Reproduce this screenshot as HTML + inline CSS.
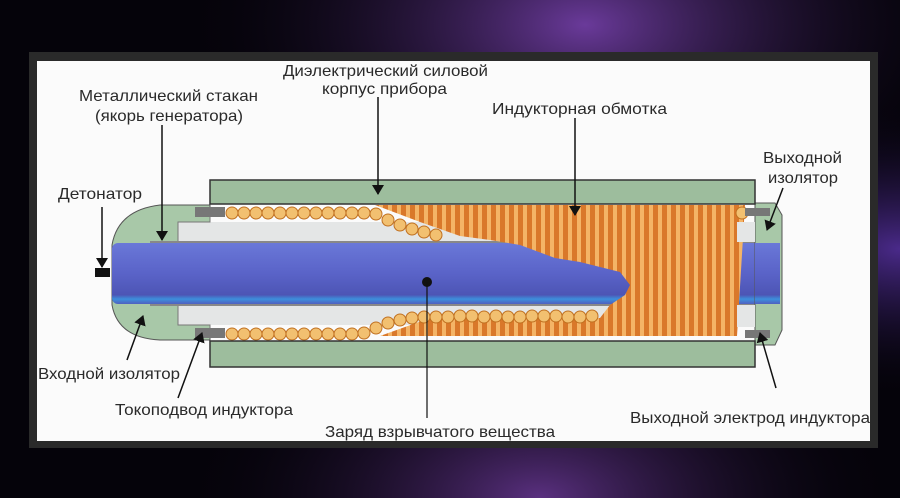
<!DOCTYPE html>
<html><head><meta charset="utf-8">
<style>
html,body{margin:0;padding:0;width:900px;height:498px;overflow:hidden;background:#05030a}
svg{display:block}
text{font-family:"Liberation Sans",Arial,sans-serif;font-size:16px;fill:#2a2a2a}
</style></head><body>
<svg width="900" height="498" viewBox="0 0 900 498">
<defs>
<radialGradient id="bg1" cx="0.65" cy="0.05" r="0.45"><stop offset="0" stop-color="#6a3a9a"/><stop offset="1" stop-color="#05030a" stop-opacity="0"/></radialGradient>
<radialGradient id="bg2" cx="0.6" cy="1" r="0.4"><stop offset="0" stop-color="#5a3080"/><stop offset="1" stop-color="#05030a" stop-opacity="0"/></radialGradient>
<radialGradient id="bg3" cx="1" cy="0.5" r="0.3"><stop offset="0" stop-color="#4a2a8a"/><stop offset="1" stop-color="#05030a" stop-opacity="0"/></radialGradient>
<linearGradient id="blue" x1="0" y1="0" x2="0" y2="1"><stop offset="0" stop-color="#6a78d8"/><stop offset="0.5" stop-color="#5a63c8"/><stop offset="0.85" stop-color="#4d55b5"/><stop offset="0.92" stop-color="#3d8fdc"/><stop offset="1" stop-color="#5060c0"/></linearGradient>
<pattern id="stripes" width="9" height="10" patternUnits="userSpaceOnUse"><rect width="9" height="10" fill="#d9782a"/><rect x="1" width="4" height="10" fill="#f4b466"/></pattern>
<marker id="ah" markerWidth="10" markerHeight="12" refX="9" refY="6" orient="auto" markerUnits="userSpaceOnUse"><path d="M0,0 L10,6 L0,12 z" fill="#111"/></marker>
</defs>
<rect width="900" height="498" fill="#05030a"/>
<rect width="900" height="498" fill="url(#bg1)"/>
<rect width="900" height="498" fill="url(#bg2)"/>
<rect width="900" height="498" fill="url(#bg3)"/>
<rect x="29" y="52" width="849" height="396" fill="#2a2a2a"/>
<rect x="37" y="61" width="833" height="380" fill="#fbfbfb"/>

<path d="M210,205 L160,205 Q118,210 112,245 L112,305 Q118,338 160,340 L210,340 Z" fill="#a8c8a8" stroke="#555" stroke-width="1"/>
<rect x="178" y="222" width="560" height="20" fill="#e4e6e6"/>
<rect x="178" y="305" width="560" height="20" fill="#e4e6e6"/>
<path d="M178,242 V222 H210 V215" fill="none" stroke="#777" stroke-width="1"/>
<path d="M178,305 V325 H210 V332" fill="none" stroke="#777" stroke-width="1"/>
<rect x="195" y="207" width="30" height="10" fill="#777"/>
<rect x="195" y="328" width="30" height="10" fill="#777"/>
<rect x="112" y="243" width="666" height="61" rx="6" fill="url(#blue)"/>
<line x1="150" y1="242" x2="778" y2="242" stroke="#888" stroke-width="2"/>
<line x1="150" y1="305" x2="778" y2="305" stroke="#888" stroke-width="2"/>
<path d="M375,205 L745,205 L737,336 L380,336 L430,318 L600,318 L610,305 L625,295 L630,285 L620,272 L580,262 L555,258 L520,245 L490,240 L460,236 L420,222 Z" fill="url(#stripes)"/>
<g fill="#f2c070" stroke="#c07020" stroke-width="1">
<circle cx="232" cy="213" r="6"/><circle cx="244" cy="213" r="6"/><circle cx="256" cy="213" r="6"/><circle cx="268" cy="213" r="6"/><circle cx="280" cy="213" r="6"/><circle cx="292" cy="213" r="6"/><circle cx="304" cy="213" r="6"/><circle cx="316" cy="213" r="6"/><circle cx="328" cy="213" r="6"/><circle cx="340" cy="213" r="6"/><circle cx="352" cy="213" r="6"/><circle cx="364" cy="213" r="6"/><circle cx="376" cy="214" r="6"/><circle cx="388" cy="220" r="6"/><circle cx="400" cy="225" r="6"/><circle cx="412" cy="229" r="6"/><circle cx="424" cy="232" r="6"/><circle cx="436" cy="235" r="6"/>
<circle cx="232" cy="334" r="6"/><circle cx="244" cy="334" r="6"/><circle cx="256" cy="334" r="6"/><circle cx="268" cy="334" r="6"/><circle cx="280" cy="334" r="6"/><circle cx="292" cy="334" r="6"/><circle cx="304" cy="334" r="6"/><circle cx="316" cy="334" r="6"/><circle cx="328" cy="334" r="6"/><circle cx="340" cy="334" r="6"/><circle cx="352" cy="334" r="6"/><circle cx="364" cy="333" r="6"/><circle cx="376" cy="328" r="6"/><circle cx="388" cy="323" r="6"/><circle cx="400" cy="320" r="6"/><circle cx="412" cy="318" r="6"/><circle cx="424" cy="317" r="6"/><circle cx="436" cy="317" r="6"/><circle cx="448" cy="317" r="6"/><circle cx="460" cy="316" r="6"/><circle cx="472" cy="316" r="6"/><circle cx="484" cy="317" r="6"/><circle cx="496" cy="316" r="6"/><circle cx="508" cy="317" r="6"/><circle cx="520" cy="317" r="6"/><circle cx="532" cy="316" r="6"/><circle cx="544" cy="316" r="6"/><circle cx="556" cy="316" r="6"/><circle cx="568" cy="317" r="6"/><circle cx="580" cy="317" r="6"/><circle cx="592" cy="316" r="6"/>
<circle cx="742" cy="213" r="6"/>
</g>
<path d="M755,203 L775,203 L782,215 L782,330 L775,345 L755,345 Z" fill="#a8c8a8" stroke="#555"/>
<rect x="737" y="222" width="18" height="20" fill="#e4e6e6"/>
<rect x="737" y="305" width="18" height="22" fill="#e4e6e6"/>
<rect x="755" y="243" width="25" height="61" fill="url(#blue)"/>
<rect x="745" y="208" width="25" height="8" fill="#777"/>
<rect x="745" y="330" width="25" height="8" fill="#777"/>
<rect x="210" y="180" width="545" height="24" fill="#9dbd9d" stroke="#333" stroke-width="1.5"/>
<rect x="210" y="341" width="545" height="26" fill="#9dbd9d" stroke="#333" stroke-width="1.5"/>
<rect x="95" y="268" width="15" height="9" fill="#111"/>
<line x1="102" y1="207" x2="102" y2="267" stroke="#111" stroke-width="1.5" marker-end="url(#ah)"/>
<circle cx="427" cy="282" r="5" fill="#111"/>
<line x1="427" y1="282" x2="427" y2="418" stroke="#111" stroke-width="1.2"/>
<g stroke="#111" stroke-width="1.5" fill="none" marker-end="url(#ah)">
<line x1="162" y1="125" x2="162" y2="240"/>
<line x1="378" y1="97" x2="378" y2="194"/>
<line x1="575" y1="118" x2="575" y2="215"/>
<line x1="783" y1="188" x2="767" y2="230"/>
<line x1="127" y1="360" x2="143" y2="316"/>
<line x1="178" y1="398" x2="202" y2="333"/>
<line x1="776" y1="388" x2="760" y2="333"/>
</g>
<text x="283" y="76" textLength="205" lengthAdjust="spacingAndGlyphs">Диэлектрический силовой</text>
<text x="322" y="94" textLength="125" lengthAdjust="spacingAndGlyphs">корпус прибора</text>
<text x="79" y="101" textLength="179" lengthAdjust="spacingAndGlyphs">Металлический стакан</text>
<text x="95" y="121" textLength="148" lengthAdjust="spacingAndGlyphs">(якорь генератора)</text>
<text x="492" y="114" textLength="175" lengthAdjust="spacingAndGlyphs">Индукторная обмотка</text>
<text x="58" y="199" textLength="84" lengthAdjust="spacingAndGlyphs">Детонатор</text>
<text x="763" y="163" textLength="79" lengthAdjust="spacingAndGlyphs">Выходной</text>
<text x="768" y="183" textLength="70" lengthAdjust="spacingAndGlyphs">изолятор</text>
<text x="38" y="379" textLength="142" lengthAdjust="spacingAndGlyphs">Входной изолятор</text>
<text x="115" y="415" textLength="178" lengthAdjust="spacingAndGlyphs">Токоподвод индуктора</text>
<text x="630" y="423" textLength="240" lengthAdjust="spacingAndGlyphs">Выходной электрод индуктора</text>
<text x="325" y="437" textLength="230" lengthAdjust="spacingAndGlyphs">Заряд взрывчатого вещества</text>
</svg>
</body></html>
